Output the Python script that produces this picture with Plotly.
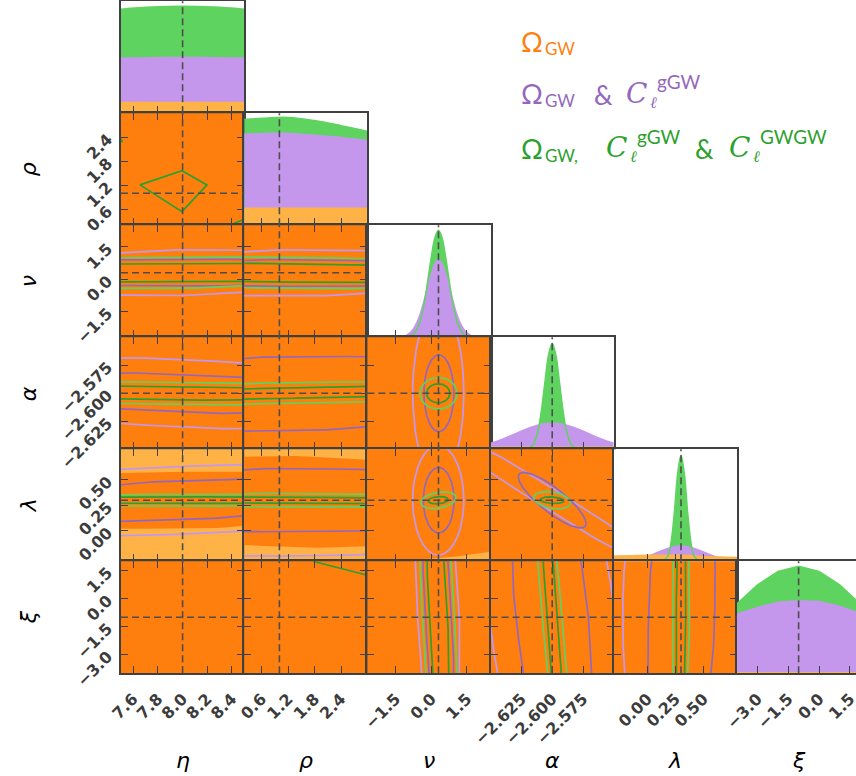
import numpy as np
import plotly.graph_objects as go

FIG_W, FIG_H = 856, 776
LEFT, COL_W, TOP, ROW_H = 121.0, 123.2, 1.3, 112.0

# ---------------- parameters ----------------
names = ["η", "ρ", "ν", "α", "λ", "ξ"]
truths = [8.0, 1.0, 0.3, -2.6, 0.3, -1.0]
axis_ranges = [[7.5, 8.5], [0.2, 3.0], [-2.7, 2.5], [-2.65, -2.55], [-0.3, 0.8], [-4.0, 2.0]]
tick_vals = [[7.6, 7.8, 8.0, 8.2, 8.4], [0.6, 1.2, 1.8, 2.4], [-1.5, 0.0, 1.5],
             [-2.625, -2.6, -2.575], [0.0, 0.25, 0.5], [-3.0, -1.5, 0.0, 1.5]]
tick_text = [["7.6", "7.8", "8.0", "8.2", "8.4"], ["0.6", "1.2", "1.8", "2.4"],
             ["−1.5", "0.0", "1.5"], ["−2.625", "−2.600", "−2.575"],
             ["0.00", "0.25", "0.50"], ["−3.0", "−1.5", "0.0", "1.5"]]

# ---------------- 1D marginals (height relative to panel) ----------------
eta_x = [7.5, 7.75, 8.0, 8.25, 8.5]
eta_green = [0.93, 0.948, 0.955, 0.948, 0.93]
eta_purple = [0.50, 0.503, 0.505, 0.503, 0.50]
eta_orange = [0.104, 0.104, 0.104, 0.104, 0.104]

rho_x = [0.2, 0.6, 1.2, 1.8, 2.4, 3.0]
rho_green = [0.945, 0.955, 0.963, 0.935, 0.89, 0.84]
rho_purple = [0.82, 0.825, 0.827, 0.81, 0.79, 0.762]
rho_orange = [0.16, 0.16, 0.16, 0.16, 0.16, 0.16]

nu_x = [-2.7, -1.7, -1.2, -0.9, -0.7, -0.5, -0.3, -0.15, 0.0, 0.15, 0.3,
        0.45, 0.6, 0.75, 0.9, 1.1, 1.3, 1.5, 1.8, 2.3, 2.5]
nu_green = [0, 0, 0.001, 0.011, 0.042, 0.13, 0.31, 0.51, 0.72, 0.89, 0.955,
            0.89, 0.72, 0.51, 0.31, 0.13, 0.042, 0.011, 0.001, 0, 0]
nu_purple = [0, 0, 0.011, 0.049, 0.11, 0.21, 0.36, 0.48, 0.59, 0.67, 0.70,
             0.67, 0.59, 0.48, 0.36, 0.21, 0.11, 0.049, 0.011, 0, 0]
nu_orange = [0.015, 0.015, 0.015, 0.015, 0.015, 0.015, 0.015, 0.015, 0.015, 0.015, 0.015,
             0.015, 0.015, 0.015, 0.015, 0.015, 0.015, 0.015, 0.015, 0.015, 0.015]

alpha_x = [-2.65, -2.64, -2.63, -2.622, -2.616, -2.612, -2.609, -2.606, -2.603, -2.6,
           -2.597, -2.594, -2.591, -2.588, -2.584, -2.578, -2.57, -2.56, -2.55]
alpha_green = [0, 0, 0, 0.002, 0.034, 0.145, 0.33, 0.59, 0.84, 0.946,
               0.84, 0.59, 0.33, 0.145, 0.034, 0.002, 0, 0, 0]
alpha_purple = [0.06, 0.099, 0.146, 0.183, 0.208, 0.222, 0.229, 0.235, 0.239, 0.24,
                0.239, 0.235, 0.229, 0.222, 0.208, 0.183, 0.146, 0.099, 0.06]
alpha_orange = [0.025, 0.025, 0.025, 0.025, 0.025, 0.025, 0.025, 0.025, 0.025, 0.025,
                0.025, 0.025, 0.025, 0.025, 0.025, 0.025, 0.025, 0.025, 0.025]

lam_x = [-0.3, -0.15, -0.05, 0.05, 0.12, 0.18, 0.21, 0.24, 0.27, 0.3,
         0.33, 0.36, 0.39, 0.42, 0.48, 0.55, 0.65, 0.8]
lam_green = [0, 0, 0, 0, 0.001, 0.042, 0.163, 0.43, 0.78, 0.946,
             0.78, 0.43, 0.163, 0.042, 0.001, 0, 0, 0]
lam_purple = [0.002, 0.014, 0.036, 0.070, 0.099, 0.121, 0.130, 0.137, 0.142, 0.143,
              0.142, 0.137, 0.130, 0.121, 0.099, 0.070, 0.036, 0.008]
lam_orange = [0.055, 0.057, 0.059, 0.06, 0.06, 0.06, 0.06, 0.06, 0.06, 0.06,
              0.059, 0.058, 0.057, 0.055, 0.052, 0.048, 0.044, 0.04]

xi_x = [-4.0, -3.0, -2.0, -1.0, 0.0, 1.0, 2.0]
xi_green = [0.62, 0.79, 0.91, 0.955, 0.91, 0.79, 0.62]
xi_purple = [0.536, 0.595, 0.64, 0.655, 0.648, 0.605, 0.54]
xi_orange = [0.012, 0.012, 0.012, 0.012, 0.012, 0.012, 0.012]

marginals = {
    0: (eta_x, eta_green, eta_purple, eta_orange, "spline"),
    1: (rho_x, rho_green, rho_purple, rho_orange, "spline"),
    2: (nu_x, nu_green, nu_purple, nu_orange, "spline"),
    3: (alpha_x, alpha_green, alpha_purple, alpha_orange, "spline"),
    4: (lam_x, lam_green, lam_purple, lam_orange, "spline"),
    5: (xi_x, xi_green, xi_purple, xi_orange, "linear"),
}

# ---------------- 2D contours ----------------
# level: oo/oi = orange 2σ/1σ fill, po/pi = purple 2σ/1σ, go/gi = green 2σ/1σ
# "ell": cx, cy, x half-extent, y half-extent, correlation
# "hband"/"vband": cx, cy, slope, half-width (ellipse far larger than the panel)
# "poly": x list, y list
c_rho_eta = [
    ("oi", "hband", 8.0, 1.0, 0.0, 60.0),
    ("gi", "poly", [7.654, 7.995, 8.198, 7.995, 7.654], [1.21, 1.565, 1.21, 0.54, 1.21]),
    ("gi", "poly", [8.38, 8.5], [0.2, 0.35]),
    ("gi", "poly", [7.5, 7.512], [2.36, 2.27]),
]
c_nu_eta = [
    ("oi", "hband", 8.0, 0.3, 0.0, 60.0),
    ("po", "hband", 8.0, 0.3, 0.0, 1.06),
    ("pi", "hband", 8.0, 0.3, 0.0, 0.62),
    ("go", "hband", 8.0, 0.3, 0.03, 0.72),
    ("gi", "hband", 8.0, 0.3, 0.03, 0.427),
]
c_nu_rho = [
    ("oi", "hband", 1.0, 0.3, 0.0, 60.0),
    ("po", "hband", 1.0, 0.29, 0.0, 1.068),
    ("pi", "hband", 1.0, 0.29, -0.011, 0.62),
    ("go", "hband", 1.0, 0.3, -0.022, 0.72),
    ("gi", "hband", 1.0, 0.3, -0.025, 0.43),
]
c_alpha_eta = [
    ("oi", "hband", 8.0, -2.6, 0.0, 5.0),
    ("po", "hband", 8.0, -2.6, -0.00504, 0.0301),
    ("pi", "hband", 8.0, -2.6, -0.00433, 0.0166),
    ("go", "hband", 8.0, -2.6, -0.00116, 0.0099),
    ("gi", "hband", 8.0, -2.6, -0.0015, 0.0059),
]
c_alpha_rho = [
    ("oi", "hband", 1.0, -2.6, 0.0, 5.0),
    ("po", "hband", 1.0, -2.6, 0.0006, 0.07),
    ("pi", "hband", 1.0, -2.6005, 0.0006, 0.033),
    ("go", "hband", 1.0, -2.6, 0.0007, 0.0094),
    ("gi", "hband", 1.0, -2.6, 0.0008, 0.0047),
]
c_alpha_nu = [
    ("oi", "hband", 0.3, -2.6, 0.0, 5.0),
    ("po", "ell", 0.29, -2.6, 1.08, 0.077, 0.0),
    ("pi", "ell", 0.318, -2.6, 0.633, 0.0343, 0.0),
    ("go", "ell", 0.30, -2.6, 0.78, 0.0141, 0.0),
    ("gi", "ell", 0.29, -2.6, 0.49, 0.0085, 0.0),
]
c_lam_eta = [
    ("oo", "hband", 8.0, 0.3, 0.0, 60.0),
    ("oi", "hband", 8.0, 0.30, 0.013, 0.278),
    ("po", "hband", 8.0, 0.30, 0.047, 0.333),
    ("pi", "hband", 8.0, 0.30, 0.041, 0.19),
    ("go", "hband", 8.0, 0.30, 0.0, 0.058),
    ("gi", "hband", 8.0, 0.30, 0.0, 0.032),
]
c_lam_rho = [
    ("oo", "hband", 1.0, 0.3, 0.0, 60.0),
    ("oi", "hband", 1.0, 0.293, -0.0154, 0.448),
    ("po", "hband", 1.0, 0.30, 0.0, 0.55),
    ("pi", "hband", 1.0, 0.30, 0.0, 0.31),
    ("go", "hband", 1.0, 0.30, -0.003, 0.066),
    ("gi", "hband", 1.0, 0.30, -0.003, 0.03),
]
c_lam_nu = [
    ("oo", "hband", 0.3, 0.3, 0.0, 60.0),
    ("oi", "hband", 0.3, 0.3, 0.0187, 0.568),
    ("po", "ell", 0.29, 0.3, 1.08, 0.54, 0.0),
    ("pi", "ell", 0.31, 0.3, 0.65, 0.322, 0.0),
    ("go", "ell", 0.30, 0.3, 0.74, 0.082, 0.3),
    ("gi", "ell", 0.29, 0.3, 0.42, 0.036, 0.2),
]
c_lam_alpha = [
    ("oi", "hband", -2.6, 0.3, 0.0, 60.0),
    ("po", "ell", -2.6, 0.3, 0.11, 0.84, -0.99),
    ("pi", "ell", -2.6, 0.3, 0.0275, 0.273, -0.84),
    ("go", "ell", -2.6, 0.3, 0.015, 0.085, -0.3),
    ("gi", "ell", -2.6, 0.3, 0.0095, 0.033, -0.2),
]
c_xi_eta = [
    ("oi", "hband", 8.0, -1.0, 0.0, 300.0),
]
c_xi_rho = [
    ("oi", "hband", 1.0, -1.0, 0.0, 300.0),
    ("gi", "poly", [1.76, 3.0], [2.0, 1.25]),
]
c_xi_nu = [
    ("oi", "hband", 0.3, -1.0, 0.0, 300.0),
    ("po", "vband", 0.3, -1.0, -0.044, 0.88),
    ("pi", "vband", 0.3, -1.0, -0.044, 0.55),
    ("go", "vband", 0.3, -1.0, -0.044, 0.68),
    ("gi", "vband", 0.3, -1.0, -0.044, 0.38),
]
c_xi_alpha = [
    ("oi", "hband", -2.6, -1.0, 0.0, 300.0),
    ("po", "vband", -2.6, -1.0, -0.00168, 0.051),
    ("pi", "vband", -2.6, -1.0, -0.00168, 0.0294),
    ("go", "vband", -2.6, -1.0, -0.00135, 0.0081),
    ("gi", "vband", -2.6, -1.0, -0.0011, 0.0042),
]
c_xi_lam = [
    ("oi", "hband", 0.3, -1.0, 0.0, 300.0),
    ("po", "vband", 0.31, -1.0, 0.0, 0.53),
    ("pi", "vband", 0.305, -1.0, 0.0045, 0.295),
    ("go", "vband", 0.30, -1.0, 0.0, 0.075),
    ("gi", "vband", 0.30, -1.0, 0.0, 0.042),
]

contours = {
    (1, 0): c_rho_eta,
    (2, 0): c_nu_eta, (2, 1): c_nu_rho,
    (3, 0): c_alpha_eta, (3, 1): c_alpha_rho, (3, 2): c_alpha_nu,
    (4, 0): c_lam_eta, (4, 1): c_lam_rho, (4, 2): c_lam_nu, (4, 3): c_lam_alpha,
    (5, 0): c_xi_eta, (5, 1): c_xi_rho, (5, 2): c_xi_nu, (5, 3): c_xi_alpha, (5, 4): c_xi_lam,
}

# ---------------- styling ----------------
COLORS = {"oo": "#ffb347", "oi": "#ff7f0e", "po": "#c497ed", "pi": "#9467bd",
          "go": "#5fd35f", "gi": "#2ca02c"}
FILL_GREEN, FILL_PURPLE, FILL_ORANGE = "#5fd35f", "#c497ed", "#ffb347"
FRAME = "#404040"
TRUTH = "#4d4d4d"
ORDER = ["oo", "oi", "po", "pi", "go", "gi"]
TICKFONT = dict(family="DejaVu Sans", size=16, color="#3c3c3c", weight="bold")


def ellipse_xy(cx, cy, ax, ay, r, vertical=False, n=1800):
    t = np.linspace(0.0, 2.0 * np.pi, n)
    u = np.cos(t)
    v = r * np.cos(t) + np.sqrt(1.0 - r * r) * np.sin(t)
    if vertical:
        return cx + ax * v, cy + ay * u
    return cx + ax * u, cy + ay * v


def spec_xy(spec, i, j):
    kind = spec[1]
    if kind == "poly":
        return np.array(spec[2]), np.array(spec[3])
    if kind == "ell":
        cx, cy, ax, ay, r = spec[2:]
        return ellipse_xy(cx, cy, ax, ay, r)
    cx, cy, m, h = spec[2:]
    if kind == "hband":
        big = 3.0 * (axis_ranges[j][1] - axis_ranges[j][0])
        ay = np.hypot(m * big, h)
        return ellipse_xy(cx, cy, big, ay, m * big / ay)
    big = 2.0 * (axis_ranges[i][1] - axis_ranges[i][0])
    ax = np.hypot(m * big, h)
    return ellipse_xy(cx, cy, ax, big, m * big / ax, vertical=True)


def xdom(j):
    a = LEFT + COL_W * j
    return [a / FIG_W, min(a + COL_W, FIG_W) / FIG_W]


def ydom(i):
    t = TOP + ROW_H * i
    return [1 - (t + ROW_H) / FIG_H, 1 - t / FIG_H]


def xrange_for(j):
    r0, r1 = axis_ranges[j]
    a = LEFT + COL_W * j
    if a + COL_W > FIG_W:
        r1 = r0 + (r1 - r0) * (FIG_W - a) / COL_W
    return [r0, r1]


traces, shapes, annotations = [], [], []
layout = dict(width=FIG_W, height=FIG_H, margin=dict(l=0, r=0, t=0, b=0, autoexpand=False),
              paper_bgcolor="white", plot_bgcolor="white", showlegend=False)

axis_common = dict(showgrid=False, zeroline=False, showline=True, linecolor=FRAME,
                   linewidth=2, automargin=False, fixedrange=True)
tick_common = dict(ticks="inside", ticklen=7, tickwidth=1.3, tickcolor=FRAME,
                   tickmode="array", tickangle=-45, tickfont=TICKFONT,
                   ticklabelstandoff=8, ticklabeloverflow="allow")

panels = [(i, j) for i in range(6) for j in range(i + 1)]
for k, (i, j) in enumerate(panels, start=1):
    sfx = "" if k == 1 else str(k)
    xr, yr = "x" + sfx, "y" + sfx
    diag = i == j
    layout["xaxis" + sfx] = dict(
        domain=xdom(j), range=xrange_for(j), anchor=yr,
        mirror=True if diag else "ticks", tickvals=tick_vals[j], ticktext=tick_text[j],
        showticklabels=(i == 5), **axis_common, **tick_common)
    if diag:
        layout["yaxis" + sfx] = dict(
            domain=ydom(i), range=[0, 1], anchor=xr, mirror=True, ticks="",
            showticklabels=False, **axis_common)
    else:
        layout["yaxis" + sfx] = dict(
            domain=ydom(i), range=axis_ranges[i], anchor=xr, mirror="ticks",
            tickvals=tick_vals[i], ticktext=tick_text[i], showticklabels=(j == 0),
            **axis_common, **tick_common)

    if diag:
        xs, g, p, o, shape = marginals[i]
        for ys, col in ((g, FILL_GREEN), (p, FILL_PURPLE), (o, FILL_ORANGE)):
            traces.append(go.Scatter(x=xs, y=ys, xaxis=xr, yaxis=yr, mode="lines",
                                     line=dict(width=0, shape=shape), fill="tozeroy",
                                     fillcolor=col, hoverinfo="skip"))
        traces.append(go.Scatter(x=xs, y=g, xaxis=xr, yaxis=yr, mode="lines",
                                 line=dict(width=1.5, color=FILL_GREEN, shape=shape),
                                 hoverinfo="skip"))
    else:
        for spec in sorted(contours[(i, j)], key=lambda s: ORDER.index(s[0])):
            x, y = spec_xy(spec, i, j)
            lvl = spec[0]
            if lvl in ("oo", "oi"):
                traces.append(go.Scatter(x=x, y=y, xaxis=xr, yaxis=yr, mode="lines",
                                         line=dict(width=0), fill="toself",
                                         fillcolor=COLORS[lvl], hoverinfo="skip"))
            else:
                traces.append(go.Scatter(x=x, y=y, xaxis=xr, yaxis=yr, mode="lines",
                                         line=dict(width=1.7, color=COLORS[lvl]),
                                         hoverinfo="skip"))

    # truth markers
    shapes.append(dict(type="line", xref=xr, yref=yr + " domain", x0=truths[j], x1=truths[j],
                       y0=0, y1=1, line=dict(color=TRUTH, width=1.6, dash="7px,4px")))
    if not diag:
        shapes.append(dict(type="line", xref=xr + " domain", yref=yr, x0=0, x1=1,
                           y0=truths[i], y1=truths[i],
                           line=dict(color=TRUTH, width=1.6, dash="7px,4px")))

# axis titles
for j in range(6):
    cx = LEFT + COL_W * (j + 0.5)
    annotations.append(dict(text="<i>%s</i>" % names[j], x=cx / FIG_W, y=1 - 760 / FIG_H,
                            xref="paper", yref="paper", showarrow=False,
                            xanchor="center", yanchor="middle",
                            font=dict(family="DejaVu Sans", size=22, color="black")))
for i in range(1, 6):
    cy = TOP + ROW_H * (i + 0.5)
    annotations.append(dict(text="<i>%s</i>" % names[i], x=28 / FIG_W, y=1 - cy / FIG_H,
                            xref="paper", yref="paper", showarrow=False, textangle=-90,
                            xanchor="center", yanchor="middle",
                            font=dict(family="DejaVu Sans", size=22, color="black")))


# legend text
def piece(text, x_px, y_px, size, color, family="Lato"):
    annotations.append(dict(text=text, x=x_px / FIG_W, y=1 - y_px / FIG_H,
                            xref="paper", yref="paper", showarrow=False,
                            xanchor="left", yanchor="middle",
                            font=dict(family=family, size=size, color=color)))


C_OR, C_PU, C_GR = "#ff7f0e", "#9467bd", "#2ca02c"
SERIF = "DejaVu Serif"
piece("Ω", 519, 41, 27, C_OR)
piece("GW", 543, 48.5, 17, C_OR)

piece("Ω", 519, 93, 27, C_PU)
piece("GW", 543, 100.5, 17, C_PU)
piece("&amp;", 592, 95, 26, C_PU)
piece("<i>C</i>", 624, 93, 28, C_PU, SERIF)
piece("<i>ℓ</i>", 648, 103, 16, C_PU, SERIF)
piece("gGW", 655, 82, 19, C_PU)

piece("Ω", 519, 148, 27, C_GR)
piece("GW,", 543, 155.5, 17, C_GR)
piece("<i>C</i>", 604, 147, 28, C_GR, SERIF)
piece("<i>ℓ</i>", 628, 157, 16, C_GR, SERIF)
piece("gGW", 635, 136, 19, C_GR)
piece("&amp;", 693, 149, 26, C_GR)
piece("<i>C</i>", 727, 147, 28, C_GR, SERIF)
piece("<i>ℓ</i>", 751, 157, 16, C_GR, SERIF)
piece("GWGW", 758, 136, 19, C_GR)

layout["shapes"] = shapes
layout["annotations"] = annotations

fig = go.Figure(data=traces, layout=layout)
fig.write_html("out.html")
